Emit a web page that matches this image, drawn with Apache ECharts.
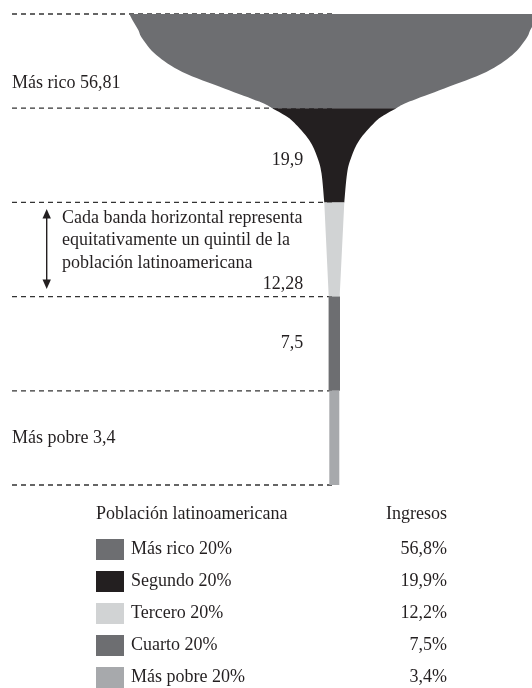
<!DOCTYPE html>
<html>
<head>
<meta charset="utf-8">
<script src="https://cdn.jsdelivr.net/npm/echarts@6/dist/echarts.min.js"></script>
<style>
  html, body { margin: 0; padding: 0; background: #fff; }
  #chart { width: 532px; height: 688px; }
</style>
</head>
<body>
<div id="chart"></div>
<script>
// quintiles, richest first
const bandNames = ['Más rico 20%', 'Segundo 20%', 'Tercero 20%', 'Cuarto 20%', 'Más pobre 20%']
const bandTags = ['Más rico', '', '', '', 'Más pobre']
const quintileValues = [56.81, 19.9, 12.28, 7.5, 3.4]
const incomeShares = [56.8, 19.9, 12.2, 7.5, 3.4]
const boundaries = [0, 20, 40, 60, 80, 100]

// glass outline: [population position, half width]
const richProfile = [[100, 205], [98.4, 201], [96.6, 196], [94.8, 192], [91.3, 178], [87.7, 152], [84.2, 110], [81.4, 75], [80, 62]]
const secondProfile = [[80, 62], [78.3, 48], [76.9, 40], [73.2, 25], [69.6, 17], [66.2, 12.8], [60, 10]]
const thirdProfile = [[60, 10], [40, 5.5]]
const fourthProfile = [[40, 5.7], [20, 5.7]]
const poorProfile = [[20, 5], [0, 5]]
const profiles = [richProfile, secondProfile, thirdProfile, fourthProfile, poorProfile]

const bandColors = ['#6d6e71', '#231f20', '#d1d3d4', '#6d6e71', '#a7a9ac']
const FONT = '"Liberation Serif", "DejaVu Serif", serif'
const INK = '#231f20'

// where each band's label sits (side + height inside the chart)
const labelPlacement = [
  { side: 'left', pos: 85.4 },
  { side: 'stem', pos: 69 },
  { side: 'stem', pos: 42.7 },
  { side: 'stem', pos: 30 },
  { side: 'left', pos: 10 }
]
const LEFT_X = 12
const STEM_GAP = 31

const fmt = v => String(v).replace('.', ',')

function smoothEdge (pts) {
  let d = ''
  for (let i = 0; i < pts.length - 1; i++) {
    const p0 = pts[i - 1] || pts[i]
    const p1 = pts[i]
    const p2 = pts[i + 1]
    const p3 = pts[i + 2] || p2
    const c1 = [p1[0] + (p2[0] - p0[0]) / 6, p1[1] + (p2[1] - p0[1]) / 6]
    const c2 = [p2[0] - (p3[0] - p1[0]) / 6, p2[1] - (p3[1] - p1[1]) / 6]
    d += ' C ' + c1[0] + ' ' + c1[1] + ' ' + c2[0] + ' ' + c2[1] + ' ' + p2[0] + ' ' + p2[1]
  }
  return d
}

function bandRenderer (idx) {
  return function (params, api) {
    const prof = profiles[idx]
    const left = prof.map(p => api.coord([-p[1], p[0]]))
    const right = prof.slice().reverse().map(p => api.coord([p[1], p[0]]))
    let d = 'M ' + left[0][0] + ' ' + left[0][1] + smoothEdge(left)
    d += ' L ' + right[0][0] + ' ' + right[0][1] + smoothEdge(right) + ' Z'

    const lp = labelPlacement[idx]
    const at = api.coord([0, lp.pos])
    const txt = bandTags[idx] ? bandTags[idx] + ' ' + fmt(quintileValues[idx]) : fmt(quintileValues[idx])
    return {
      type: 'group',
      children: [
        {
          type: 'path',
          shape: { pathData: d },
          style: { fill: api.visual('color'), stroke: null }
        },
        {
          type: 'text',
          x: lp.side === 'left' ? LEFT_X : at[0] - STEM_GAP,
          y: at[1],
          style: {
            text: txt,
            fill: INK,
            fontFamily: FONT,
            fontSize: 18,
            align: lp.side === 'left' ? 'left' : 'right',
            verticalAlign: 'middle'
          }
        }
      ]
    }
  }
}

const chart = echarts.init(document.getElementById('chart'))

const series = [{
  type: 'custom',
  name: 'divisores',
  silent: true,
  z: 1,
  data: boundaries.map(b => [0, b]),
  renderItem (params, api) {
    const p = api.coord([0, api.value(1)])
    return {
      type: 'line',
      shape: { x1: LEFT_X, y1: p[1], x2: p[0], y2: p[1] },
      style: { stroke: '#333', lineWidth: 1.3, lineDash: [5, 4] }
    }
  }
}]

bandNames.forEach((name, i) => {
  series.push({
    type: 'custom',
    name: name,
    z: 2,
    itemStyle: { color: bandColors[i] },
    data: [[0, boundaries[4 - i] + 10]],
    renderItem: bandRenderer(i)
  })
})

const option = {
  animation: false,
  grid: { left: 0, right: 0, top: 14, bottom: 203 },
  xAxis: { type: 'value', min: -334.3, max: 197.7, show: false },
  yAxis: { type: 'value', min: 0, max: 100, show: false },
  legend: {
    data: bandNames,
    orient: 'vertical',
    left: 96,
    top: 539,
    padding: 0,
    icon: 'rect',
    itemWidth: 28,
    itemHeight: 21,
    itemGap: 11,
    selectedMode: false,
    formatter: name => '{n|' + name + '}{v|' + fmt(incomeShares[bandNames.indexOf(name)]) + '%}',
    textStyle: {
      color: INK,
      fontFamily: FONT,
      fontSize: 18,
      lineHeight: 21,
      rich: {
        n: { width: 250, padding: [0, 0, 0, 2], fontFamily: FONT, fontSize: 18, color: INK },
        v: { width: 66, align: 'right', fontFamily: FONT, fontSize: 18, color: INK }
      }
    }
  },
  graphic: [
    {
      type: 'text', left: 96, top: 505,
      style: { text: 'Población latinoamericana', fill: INK, fontFamily: FONT, fontSize: 18 }
    },
    {
      type: 'text', right: 85, top: 505,
      style: { text: 'Ingresos', fill: INK, fontFamily: FONT, fontSize: 18 }
    },
    {
      type: 'text', x: 62, y: 207,
      style: {
        text: 'Cada banda horizontal representa\nequitativamente un quintil de la\npoblación latinoamericana',
        fill: INK, fontFamily: FONT, fontSize: 18, lineHeight: 22.5, verticalAlign: 'top'
      }
    },
    {
      type: 'line',
      shape: { x1: 46.7, y1: 214, x2: 46.7, y2: 284 },
      style: { stroke: INK, lineWidth: 1.4 }
    },
    {
      type: 'polygon',
      shape: { points: [[46.7, 209], [42.5, 218.5], [50.9, 218.5]] },
      style: { fill: INK }
    },
    {
      type: 'polygon',
      shape: { points: [[46.7, 289], [42.5, 279.5], [50.9, 279.5]] },
      style: { fill: INK }
    }
  ],
  series: series
}

chart.setOption(option)
</script>
</body>
</html>
